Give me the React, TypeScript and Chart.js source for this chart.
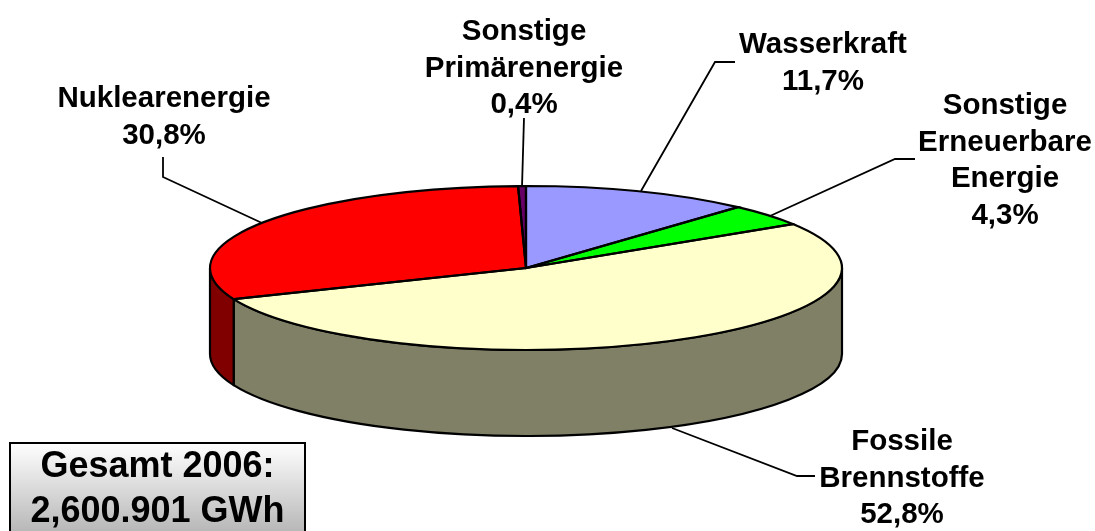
import React, { useEffect, useRef } from "react";
import { Chart, registerables } from "chart.js";

Chart.register(...registerables);

const categories = ["Wasserkraft", "Sonstige Erneuerbare Energie", "Fossile Brennstoffe", "Nuklearenergie", "Sonstige Primärenergie"];
const shares = [11.7, 4.3, 52.8, 30.8, 0.4];
const topColours = ["#9999ff", "#00ff00", "#ffffcc", "#ff0000", "#660066"];
const sideColours = ["#4c4c80", "#008000", "#808066", "#800000", "#330033"];
const labelLines = [
  ["Wasserkraft", "11,7%"],
  ["Sonstige", "Erneuerbare", "Energie", "4,3%"],
  ["Fossile", "Brennstoffe", "52,8%"],
  ["Nuklearenergie", "30,8%"],
  ["Sonstige", "Primärenergie", "0,4%"],
];
const labelAnchors = [[823, 53], [1005, 114], [902, 450], [164, 107], [524, 40]];
const leaders = [
  [[735, 62], [715, 62], [641, 191]],
  [[915, 159], [895, 159], [770, 216]],
  [[815, 476], [797, 476], [672, 428]],
  [[163, 157], [163, 177], [262, 223]],
  [[524, 118], [522, 187]],
];
const totalLines = ["Gesamt 2006:", "2,600.901 GWh"];

const RX = 316;
const RY = 82;
const DEPTH = 86;
const LINE_STEP = 36.5;
const FONT = 'bold 29.5px "Liberation Sans", Arial, sans-serif';
const TOTAL_FONT = 'bold 36px "Liberation Sans", Arial, sans-serif';

const pie3d = {
  id: "pie3d",
  beforeDatasetsDraw(chart: any) {
    const ctx = chart.ctx as CanvasRenderingContext2D;
    const arcs = chart.getDatasetMeta(0).data as any[];
    const { x, y } = arcs[0];
    ctx.save();
    ctx.lineWidth = 2.2;
    ctx.strokeStyle = "#000";
    ctx.lineJoin = "round";
    arcs.forEach((a, i) => {
      const s = Math.max(a.startAngle, 0);
      const e = Math.min(a.endAngle, Math.PI);
      if (e <= s) return;
      ctx.beginPath();
      ctx.ellipse(x, y, RX, RY, 0, s, e);
      ctx.ellipse(x, y + DEPTH, RX, RY, 0, e, s, true);
      ctx.closePath();
      ctx.fillStyle = sideColours[i];
      ctx.fill();
      ctx.stroke();
    });
    ctx.restore();
    ctx.save();
    const R = arcs[0].outerRadius;
    ctx.translate(x, y);
    ctx.scale(RX / R, RY / R);
    ctx.translate(-x, -y);
  },
  afterDatasetsDraw(chart: any) {
    const ctx = chart.ctx as CanvasRenderingContext2D;
    ctx.restore();
    const arcs = chart.getDatasetMeta(0).data as any[];
    const { x, y } = arcs[0];
    ctx.save();
    ctx.lineWidth = 2.2;
    ctx.strokeStyle = "#000";
    arcs.forEach((a) => {
      ctx.beginPath();
      ctx.ellipse(x, y, RX, RY, 0, a.startAngle, a.endAngle);
      ctx.lineTo(x, y);
      ctx.closePath();
      ctx.stroke();
    });
    ctx.lineWidth = 1.8;
    leaders.forEach((pts) => {
      ctx.beginPath();
      pts.forEach(([px, py], i) => (i ? ctx.lineTo(px, py) : ctx.moveTo(px, py)));
      ctx.stroke();
    });
    ctx.fillStyle = "#000";
    ctx.font = FONT;
    ctx.textAlign = "center";
    ctx.textBaseline = "alphabetic";
    labelLines.forEach((lines, i) => {
      lines.forEach((t, j) => ctx.fillText(t, labelAnchors[i][0], labelAnchors[i][1] + j * LINE_STEP));
    });
    const g = ctx.createLinearGradient(0, 443, 0, 531);
    g.addColorStop(0, "#ffffff");
    g.addColorStop(1, "#b8b8b8");
    ctx.fillStyle = g;
    ctx.fillRect(10, 443, 295, 100);
    ctx.lineWidth = 2;
    ctx.strokeRect(10, 443, 295, 100);
    ctx.fillStyle = "#000";
    ctx.font = TOTAL_FONT;
    totalLines.forEach((t, j) => ctx.fillText(t, 157.5, 477 + j * 44.5));
    ctx.restore();
  },
};

export default function App() {
  const ref = useRef<HTMLCanvasElement>(null);
  useEffect(() => {
    document.body.style.margin = "0";
    const chart = new Chart(ref.current!, {
      type: "pie",
      data: {
        labels: categories,
        datasets: [{ data: shares, backgroundColor: topColours, borderWidth: 0 }],
      },
      options: {
        animation: false,
        responsive: false,
        layout: { padding: { left: 0, right: 43, top: 5, bottom: 0 } },
        plugins: { legend: { display: false }, tooltip: { enabled: false } },
      },
      plugins: [pie3d],
    });
    return () => chart.destroy();
  }, []);
  return <canvas ref={ref} width={1095} height={531} style={{ display: "block" }} />;
}
